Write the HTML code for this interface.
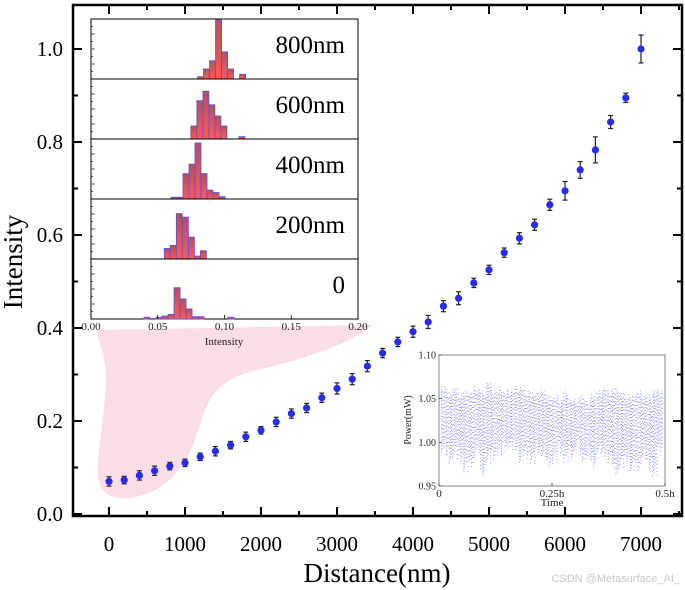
<!DOCTYPE html>
<html><head><meta charset="utf-8"><style>
body{margin:0;background:#fff;}
svg{display:block;font-family:"Liberation Serif",serif;}
.wm{font-family:"Liberation Sans",sans-serif;}
</style></head><body>
<svg id="c" width="685" height="590" viewBox="0 0 685 590"></svg>
<script>
const distances=[0,200,400,600,800,1000,1200,1400,1600,1800,2000,2200,2400,2600,2800,3000,3200,3400,3600,3800,4000,4200,4400,4600,4800,5000,5200,5400,5600,5800,6000,6200,6400,6600,6800,7000];
const intensities=[0.07,0.073,0.083,0.093,0.103,0.11,0.123,0.135,0.148,0.166,0.18,0.198,0.216,0.228,0.25,0.27,0.29,0.318,0.346,0.37,0.392,0.413,0.447,0.464,0.497,0.525,0.562,0.593,0.622,0.665,0.695,0.74,0.783,0.843,0.895,1.0];
const errors=[0.01,0.008,0.01,0.01,0.008,0.008,0.008,0.01,0.008,0.01,0.008,0.01,0.01,0.01,0.01,0.012,0.012,0.012,0.01,0.01,0.012,0.014,0.012,0.014,0.01,0.01,0.01,0.012,0.012,0.012,0.02,0.018,0.028,0.014,0.01,0.03];
const xTicks=[0,1000,2000,3000,4000,5000,6000,7000];
const yTicks=[0.0,0.2,0.4,0.6,0.8,1.0];
const yTickLabels=["0.0","0.2","0.4","0.6","0.8","1.0"];
const histLabels=["800nm","600nm","400nm","200nm","0"];
const histStarts=[0.0798,0.0748,0.0599,0.0549,0.0397];
const histBinWidth=0.0045;
const histCounts=[
 [4,17,31,100,46,17,0,8],
 [22,65,81,58,39,22,0,0,4],
 [3,3,43,59,95,43,15,11,4],
 [18,23,77,71,37,5,14],
 [3,0,3,5,8,53,34,17,4,4,0,0,0,0,3]
];
const histXTicks=[0,0.05,0.10,0.15,0.20];
const histXTickLabels=["0.00","0.05","0.10","0.15","0.20"];
const powerLow=[0.985,0.975,0.98,0.975,0.965,0.97,0.985,0.96,0.975,0.98,0.985,0.99,0.99,0.99,0.975,0.98,0.975,0.985,0.98,0.97,0.975,0.985,0.975,0.98,0.99,0.975,0.98,0.97,0.985,0.98,0.975,0.96,0.97,0.975,0.965,0.965,0.98,0.97,0.96,0.985];
const powerHigh=[1.065,1.06,1.065,1.055,1.06,1.06,1.065,1.06,1.07,1.06,1.065,1.06,1.06,1.065,1.065,1.06,1.06,1.06,1.06,1.055,1.055,1.05,1.06,1.05,1.05,1.055,1.05,1.055,1.06,1.065,1.06,1.065,1.06,1.055,1.055,1.06,1.055,1.055,1.06,1.06];
const powerTicks=[0.95,1.00,1.05,1.10];
const powerTickLabels=["0.95","1.00","1.05","1.10"];
const timeTicks=[0,0.25,0.5];
const timeTickLabels=["0","0.25h","0.5h"];

const NS="http://www.w3.org/2000/svg";
const svg=document.getElementById('c');
function mk(tag,attrs,parent){const e=document.createElementNS(NS,tag);for(const k in attrs)e.setAttribute(k,attrs[k]);(parent||svg).appendChild(e);return e;}
function txt(s,attrs,parent){const e=mk('text',attrs,parent);e.textContent=s;return e;}

const L=73,R=682,T=5,B=516;
const xs=v=>109+v*0.076;
const ys=v=>514-v*465;

const blob=mk('path',{d:"M97,330 L372,325 C350,345 300,360 250,372 C215,382 208,400 200,425 C190,460 172,492 130,498 C100,500 96,485 98,460 C102,420 108,390 105,365 C102,345 97,338 97,330 Z",fill:"#fbdde6"});



const frame=mk('rect',{x:L,y:T,width:R-L,height:B-T,fill:"none",stroke:"#000","stroke-width":2.5});



for(let v=-500;v<=7500;v+=500){
  const x=xs(v); if(x<L||x>R)continue;
  const maj=v%1000===0;
  mk('line',{x1:x,y1:B,x2:x,y2:B-(maj?9:5),stroke:"#000","stroke-width":2});
  mk('line',{x1:x,y1:T,x2:x,y2:T+(maj?9:5),stroke:"#000","stroke-width":2});
}
xTicks.forEach(v=>{
  const t=txt(String(v),{x:xs(v),y:551,"font-size":21,"text-anchor":"middle"});
  
  
});
for(let v=0;v<=1.1;v+=0.1){
  const y=ys(v); if(y<T||y>B)continue;
  const maj=Math.round(v*10)%2===0;
  mk('line',{x1:L,y1:y,x2:L+(maj?9:5),y2:y,stroke:"#000","stroke-width":2});
  mk('line',{x1:R,y1:y,x2:R-(maj?9:5),y2:y,stroke:"#000","stroke-width":2});
}
yTicks.forEach((v,i)=>{
  const t=txt(yTickLabels[i],{x:63,y:ys(v)+7,"font-size":21,"text-anchor":"end"});
  
  
});
const xt=txt("Distance(nm)",{x:377,y:582,"font-size":27,"text-anchor":"middle"});


const yt=txt("Intensity",{x:0,y:0,"font-size":27,"text-anchor":"middle",transform:"translate(22,262) rotate(-90)"});



distances.forEach((d,i)=>{
  const g=mk('g',{});
  
  
  const x=xs(d),y=ys(intensities[i]),e=errors[i]*465;
  mk('line',{x1:x,y1:y-e,x2:x,y2:y+e,stroke:"#222","stroke-width":1.2},g);
  mk('line',{x1:x-2.5,y1:y-e,x2:x+2.5,y2:y-e,stroke:"#222","stroke-width":1.2},g);
  mk('line',{x1:x-2.5,y1:y+e,x2:x+2.5,y2:y+e,stroke:"#222","stroke-width":1.2},g);
  mk('circle',{cx:x,cy:y,r:3.6,fill:"#2a2af0"},g);
});

const hx0=91,hx1=358,hy0=19,hPanel=60;
const hxs=v=>hx0+v*(hx1-hx0)/0.2;
const hist=mk('g',{});


mk('rect',{x:hx0,y:hy0,width:hx1-hx0,height:hPanel*5,fill:"#fff",stroke:"#000","stroke-width":1},hist);
const gr=mk('linearGradient',{id:"bg",x1:0,y1:0,x2:0,y2:1},mk('defs',{}));
mk('stop',{offset:"0","stop-color":"#b05060"},gr);mk('stop',{offset:"1","stop-color":"#ff5a5a"},gr);
histCounts.forEach((counts,p)=>{
  const top=hy0+p*hPanel,bot=top+hPanel;
  const pg=mk('g',{},hist);
  
  
  counts.forEach((c,j)=>{
    if(c<=0)return;
    const a=histStarts[p]+j*histBinWidth;
    const h=c/100*(hPanel-1);
    const b=mk('rect',{x:hxs(a),y:bot-h,width:hxs(a+histBinWidth)-hxs(a),height:h,fill:"url(#bg)",stroke:"#5a50e0","stroke-width":0.8},pg);
    
    
  });
  if(p>0)mk('line',{x1:hx0,y1:top,x2:hx1,y2:top,stroke:"#000","stroke-width":1},pg);
  for(let k=1;k<8;k++)mk('line',{x1:hx0,y1:top+k*7.5,x2:hx0+(k%2?2:4),y2:top+k*7.5,stroke:"#333","stroke-width":0.8},pg);
  const lab=txt(histLabels[p],{x:345,y:top+34,"font-size":25,"text-anchor":"end"},pg);
  
  
});
histXTicks.forEach((v,i)=>{
  mk('line',{x1:hxs(v),y1:hy0+300,x2:hxs(v),y2:hy0+296,stroke:"#000","stroke-width":0.8},hist);
  txt(histXTickLabels[i],{x:hxs(v),y:330,"font-size":11,"text-anchor":"middle",fill:"#222"},hist);
});
txt("Intensity",{x:224,y:345,"font-size":11,"text-anchor":"middle",fill:"#222"},hist);

const px0=439,px1=665,py0=355,py1=486;
const pxs=v=>px0+v*(px1-px0)/0.5;
const pys=v=>py1-(v-0.95)*(py1-py0)/0.15;
const pw=mk('g',{});


mk('rect',{x:px0,y:py0,width:px1-px0,height:py1-py0,fill:"#fff",stroke:"#666","stroke-width":0.8},pw);
const nb=powerLow.length,bw=(px1-px0-4)/nb;
const dashes=["1 2","1 3.1","1 2.6","1 4","1 1.8"];
powerLow.forEach((lo,i)=>{
  for(let k=0;k<5;k++){
    const x=px0+2+i*bw+k*bw/5+0.6;
    const ln=mk('line',{x1:x,y1:pys(powerHigh[i])+((i+k)%3)*3,x2:x,y2:pys(lo)-((i*2+k)%4)*4,stroke:"#3a3af5","stroke-width":0.9,"stroke-dasharray":dashes[(k+i)%5],"stroke-dashoffset":k*1.3,opacity:0.6},pw);
    
    
  }
});
powerTicks.forEach((v,i)=>{
  mk('line',{x1:px0,y1:pys(v),x2:px0+3,y2:pys(v),stroke:"#444","stroke-width":0.8},pw);
  txt(powerTickLabels[i],{x:px0-3,y:pys(v)+3.5,"font-size":10,"text-anchor":"end",fill:"#222"},pw);
});
timeTicks.forEach((v,i)=>{
  mk('line',{x1:pxs(v),y1:py1,x2:pxs(v),y2:py1-3,stroke:"#444","stroke-width":0.8},pw);
  txt(timeTickLabels[i],{x:pxs(v),y:py1+11,"font-size":11,"text-anchor":"middle",fill:"#222"},pw);
});
txt("Time",{x:552,y:506,"font-size":11,"text-anchor":"middle",fill:"#222"},pw);
txt("Power(mW)",{x:0,y:0,"font-size":10,"text-anchor":"middle",fill:"#222",transform:"translate(411,420) rotate(-90)"},pw);

const wm=txt("CSDN @Metasurface_AI_",{x:680,y:582,"font-size":11,"text-anchor":"end",fill:"#c8c8c8","class":"wm"});


</script>
</body></html>
